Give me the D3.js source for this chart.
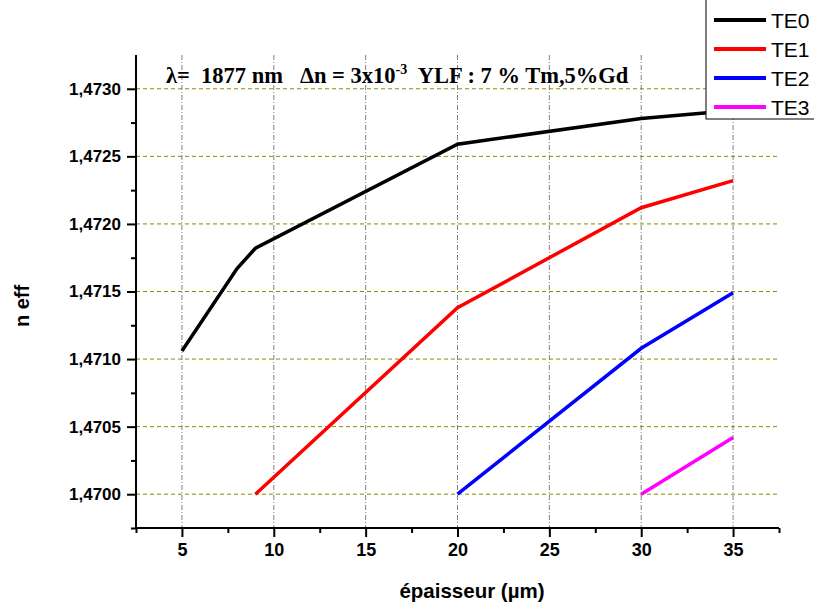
<!DOCTYPE html>
<html>
<head>
<meta charset="utf-8">
<script src="https://cdn.jsdelivr.net/npm/d3@7"></script>
<style>
  html, body { margin: 0; padding: 0; background: #fff; }
  svg { display: block; }
</style>
</head>
<body>
<svg id="chart" width="814" height="608"></svg>
<script>
// ---- data ----
const te0X = [5, 8, 9, 20, 30, 35];
const te0Y = [1.47106, 1.47167, 1.47182, 1.47259, 1.47278, 1.47284];
const te1X = [9, 20, 30, 35];
const te1Y = [1.47000, 1.47138, 1.47212, 1.47232];
const te2X = [20, 30, 35];
const te2Y = [1.47000, 1.47108, 1.47149];
const te3X = [30, 35];
const te3Y = [1.47000, 1.47042];
const seriesNames = ["TE0", "TE1", "TE2", "TE3"];
const seriesColors = ["#000000", "#ff0000", "#0000ff", "#ff00ff"];
const xTicks = [5, 10, 15, 20, 25, 30, 35];
const yTicks = [1.4700, 1.4705, 1.4710, 1.4715, 1.4720, 1.4725, 1.4730];
const xTitle = "épaisseur (µm)";
const yTitle = "n eff";

const series = [
  {name: seriesNames[0], color: seriesColors[0], pts: te0X.map((x, i) => [x, te0Y[i]])},
  {name: seriesNames[1], color: seriesColors[1], pts: te1X.map((x, i) => [x, te1Y[i]])},
  {name: seriesNames[2], color: seriesColors[2], pts: te2X.map((x, i) => [x, te2Y[i]])},
  {name: seriesNames[3], color: seriesColors[3], pts: te3X.map((x, i) => [x, te3Y[i]])}
];

const svg = d3.select("#chart");
const L = 136, R = 779, T = 55, B = 528;
const x = d3.scaleLinear().domain([2.5, 37.5]).range([L, R]);
const y = d3.scaleLinear().domain([1.46975, 1.47325]).range([B, T]);

const fmtY = v => d3.format(".4f")(v).replace(".", ",");

// grid
const grid = svg.append("g");
grid.selectAll("line.gx").data(xTicks).enter().append("line")
  .attr("x1", d => x(d)).attr("x2", d => x(d))
  .attr("y1", T).attr("y2", B)
  .attr("stroke", "#808080").attr("stroke-width", 1)
  .attr("stroke-dasharray", "5,2,1,2");
grid.selectAll("line.gy").data(yTicks).enter().append("line")
  .attr("x1", L).attr("x2", R)
  .attr("y1", d => y(d)).attr("y2", d => y(d))
  .attr("stroke", "#8c8c00").attr("stroke-width", 1)
  .attr("stroke-dasharray", "4,3");

// title
const title = svg.append("text")
  .attr("x", 166).attr("y", 83)
  .attr("font-family", "'Liberation Serif', 'Times New Roman', serif")
  .attr("font-weight", "bold").attr("font-size", 22.5).attr("fill", "#000")
  .style("white-space", "pre");
title.append("tspan").text("λ=  1877 nm   Δn = 3x10");
title.append("tspan").text("-3").attr("font-size", 14).attr("dy", -9);
title.append("tspan").text("  YLF : 7 % Tm,5%Gd").attr("dy", 9);

// lines
const line = d3.line().x(d => x(d[0])).y(d => y(d[1]));
svg.append("g").selectAll("path").data(series).enter().append("path")
  .attr("d", d => line(d.pts))
  .attr("fill", "none")
  .attr("stroke", d => d.color)
  .attr("stroke-width", 3.5)
  .attr("stroke-linejoin", "miter");

// axes
const xAxis = d3.axisBottom(x).tickValues(xTicks).tickSize(9).tickPadding(6).tickFormat(d3.format("d"));
const xMinor = d3.axisBottom(x).tickValues(d3.range(2.5, 37.6, 5)).tickSize(5).tickFormat("");
const yAxis = d3.axisLeft(y).tickValues(yTicks).tickSize(9).tickPadding(6).tickFormat(fmtY);
const yMinor = d3.axisLeft(y).tickValues(d3.range(0, 7).map(i => 1.46975 + i * 0.0005)).tickSize(5).tickFormat("");

function styleAxis(g, fs) {
  g.select(".domain").attr("stroke", "#000").attr("stroke-width", 2);
  g.selectAll(".tick line").attr("stroke", "#000").attr("stroke-width", 2);
  g.selectAll(".tick text")
    .attr("font-family", "Arial, 'Liberation Sans', sans-serif")
    .attr("font-weight", "bold").attr("font-size", fs || 17).attr("fill", "#000");
}
svg.append("g").attr("transform", `translate(0,${B})`).call(xMinor).call(g => styleAxis(g)).select(".domain").remove();
svg.append("g").attr("transform", `translate(0,${B})`).call(xAxis).call(g => { styleAxis(g, 18); g.select(".domain").attr("d", `M${L},0H${R}`); });
svg.append("g").attr("transform", `translate(${L},0)`).call(yMinor).call(g => styleAxis(g)).select(".domain").remove();
svg.append("g").attr("transform", `translate(${L},0)`).call(yAxis).call(g => { styleAxis(g, 17); g.select(".domain").attr("d", `M0,${T}V${B}`); });

// axis titles
svg.append("text")
  .attr("x", 472).attr("y", 598)
  .attr("text-anchor", "middle")
  .attr("font-family", "Arial, 'Liberation Sans', sans-serif")
  .attr("font-weight", "bold").attr("font-size", 20.5)
  .text(xTitle);
svg.append("text")
  .attr("transform", "translate(29,306) rotate(-90)")
  .attr("text-anchor", "middle")
  .attr("font-family", "Arial, 'Liberation Sans', sans-serif")
  .attr("font-weight", "bold").attr("font-size", 20)
  .text(yTitle);

// legend
const leg = svg.append("g");
leg.append("rect").attr("x", 706).attr("y", -1).attr("width", 120).attr("height", 120)
  .attr("fill", "#fff").attr("stroke", "#000").attr("stroke-width", 1);
const items = leg.selectAll("g.item").data(series).enter().append("g")
  .attr("transform", (d, i) => `translate(0,${20 + i * 29})`);
items.append("line").attr("x1", 714).attr("x2", 766).attr("y1", 0).attr("y2", 0)
  .attr("stroke", d => d.color).attr("stroke-width", 4);
items.append("text").attr("x", 771).attr("y", 8)
  .attr("font-family", "Arial, 'Liberation Sans', sans-serif")
  .attr("font-size", 21).attr("fill", "#000")
  .text(d => d.name);
</script>
</body>
</html>
